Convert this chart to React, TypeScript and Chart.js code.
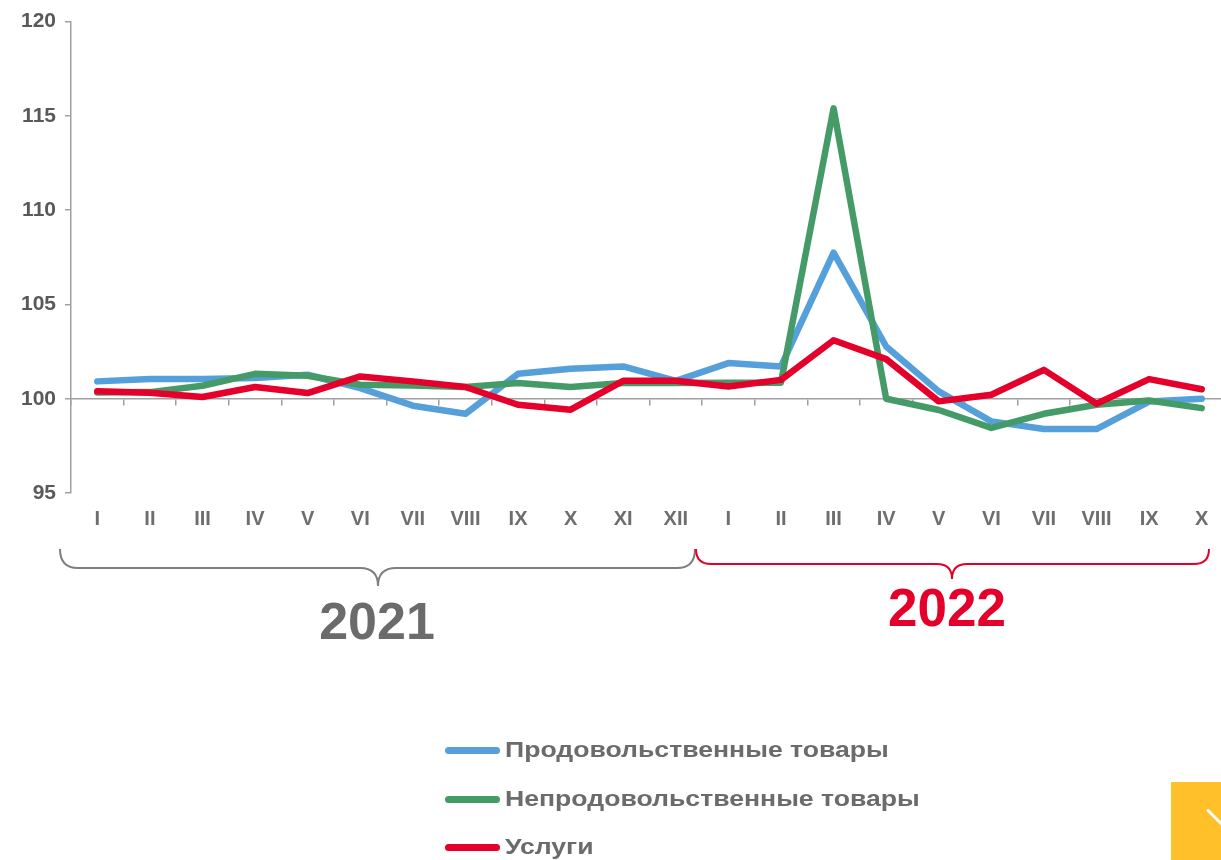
import React, { useEffect, useRef } from "react";
import { Chart, registerables } from "chart.js";

Chart.register(...registerables);

const months = ["I", "II", "III", "IV", "V", "VI", "VII", "VIII", "IX", "X", "XI", "XII", "I", "II", "III", "IV", "V", "VI", "VII", "VIII", "IX", "X"];

const foodValues = [100.92, 101.04, 101.04, 101.1, 101.27, 100.56, 99.63, 99.2, 101.32, 101.59, 101.71, 100.95, 101.89, 101.71, 107.75, 102.77, 100.39, 98.8, 98.39, 98.39, 99.85, 100.0];
const nonFoodValues = [100.33, 100.35, 100.69, 101.32, 101.22, 100.74, 100.7, 100.62, 100.83, 100.62, 100.83, 100.83, 100.85, 100.85, 115.4, 100.0, 99.4, 98.45, 99.2, 99.68, 99.91, 99.5];
const servicesValues = [100.39, 100.32, 100.09, 100.62, 100.3, 101.18, 100.92, 100.62, 99.68, 99.42, 100.95, 100.95, 100.65, 101.0, 103.1, 102.1, 99.86, 100.21, 101.53, 99.73, 101.04, 100.5];

const seriesNames = ["Продовольственные товары", "Непродовольственные товары", "Услуги"];
const seriesColors = ["#55A0DA", "#459B67", "#E4002B"];
const yearLabels = ["2021", "2022"];

const FONT = "'Liberation Sans', Arial, sans-serif";

export default function App() {
  const canvasRef = useRef<HTMLCanvasElement | null>(null);

  useEffect(() => {
    const canvas = canvasRef.current;
    if (!canvas) return;
    const values = [foodValues, nonFoodValues, servicesValues];
    const chart = new Chart(canvas, {
      type: "line",
      data: {
        labels: months,
        datasets: values.map((v, i) => ({
          label: seriesNames[i],
          data: v,
          borderColor: seriesColors[i],
          backgroundColor: seriesColors[i],
          borderWidth: 6.5,
          borderCapStyle: "round" as const,
          borderJoinStyle: "round" as const,
          pointRadius: 0,
          tension: 0,
          order: 3 - i,
          xAxisID: "x",
        })),
      },
      options: {
        responsive: false,
        animation: false,
        devicePixelRatio: 1,
        layout: { padding: { top: 21, right: 0, bottom: 0, left: 0 } },
        plugins: { legend: { display: false }, tooltip: { enabled: false } },
        scales: {
          x: {
            type: "category",
            position: "bottom",
            offset: true,
            grid: { display: false, drawTicks: false },
            border: { display: false },
            ticks: {
              autoSkip: false,
              maxRotation: 0,
              padding: 14,
              color: "#6e6e6e",
              font: { family: FONT, size: 20, weight: "bold" },
            },
            afterFit: (s: any) => {
              s.height = 52;
            },
          },
          x2: {
            type: "category",
            position: { y: 100 } as any,
            offset: true,
            grid: { offset: true, drawOnChartArea: false, drawTicks: true, tickLength: 6, color: "#a0a0a0", lineWidth: 1.5 },
            border: { display: true, color: "#a0a0a0", width: 1.5 },
            ticks: { display: false },
          },
          y: {
            type: "linear",
            min: 95,
            max: 120,
            ticks: {
              stepSize: 5,
              padding: 9,
              color: "#595959",
              font: { family: FONT, size: 21, weight: "bold" },
            },
            grid: { drawOnChartArea: false, drawTicks: true, tickLength: 6, color: "#a0a0a0", lineWidth: 1.5 },
            border: { display: true, color: "#a0a0a0", width: 1.5 },
            afterFit: (s: any) => {
              s.width = 71;
            },
          },
        },
      },
    });
    return () => chart.destroy();
  }, []);

  const legendTop = [750, 799, 847];

  return (
    <div style={{ position: "absolute", left: 0, top: 0, width: 1221, height: 860, overflow: "hidden", background: "#fff" }}>
      <canvas ref={canvasRef} width={1228} height={545} style={{ position: "absolute", left: 0, top: 0, width: 1228, height: 545 }} />
      <svg width={1221} height={860} style={{ position: "absolute", left: 0, top: 0, pointerEvents: "none" }}>
        <path
          d="M60,549 Q60,568 78,568 L360,568 Q378,568 378,586 Q378,568 396,568 L677,568 Q695,568 695,549"
          fill="none"
          stroke="#7f7f7f"
          strokeWidth={2}
        />
        <path
          d="M696,549 Q696,564 711,564 L937,564 Q952,564 952,579 Q952,564 967,564 L1194,564 Q1209,564 1209,549"
          fill="none"
          stroke="#E4002B"
          strokeWidth={2}
        />
        <text x={377} y={639} textAnchor="middle" fontFamily={FONT} fontWeight="bold" fontSize={52} fill="#6b6b6b">
          {yearLabels[0]}
        </text>
        <text x={947} y={626} textAnchor="middle" fontFamily={FONT} fontWeight="bold" fontSize={53} fill="#E4002B">
          {yearLabels[1]}
        </text>
      </svg>
      {seriesNames.map((name, i) => (
        <div key={name} style={{ position: "absolute", left: 445, top: legendTop[i] - 15, height: 30, display: "flex", alignItems: "center" }}>
          <div style={{ width: 55, height: 7, borderRadius: 4, background: seriesColors[i] }} />
          <span
            style={{
              marginLeft: 5,
              fontFamily: FONT,
              fontWeight: "bold",
              fontSize: 22,
              color: "#6b6b6b",
              whiteSpace: "nowrap",
              display: "inline-block",
              transform: "scaleX(1.21)",
              transformOrigin: "0 50%",
            }}
          >
            {name}
          </span>
        </div>
      ))}
      <div style={{ position: "absolute", left: 1171, top: 782, width: 60, height: 90, background: "#FFC02A", overflow: "hidden" }}>
        <div style={{ position: "absolute", left: 36, top: 26, width: 22, height: 3, background: "#fff", transform: "rotate(45deg)", transformOrigin: "0 50%", borderRadius: 2 }} />
      </div>
    </div>
  );
}
